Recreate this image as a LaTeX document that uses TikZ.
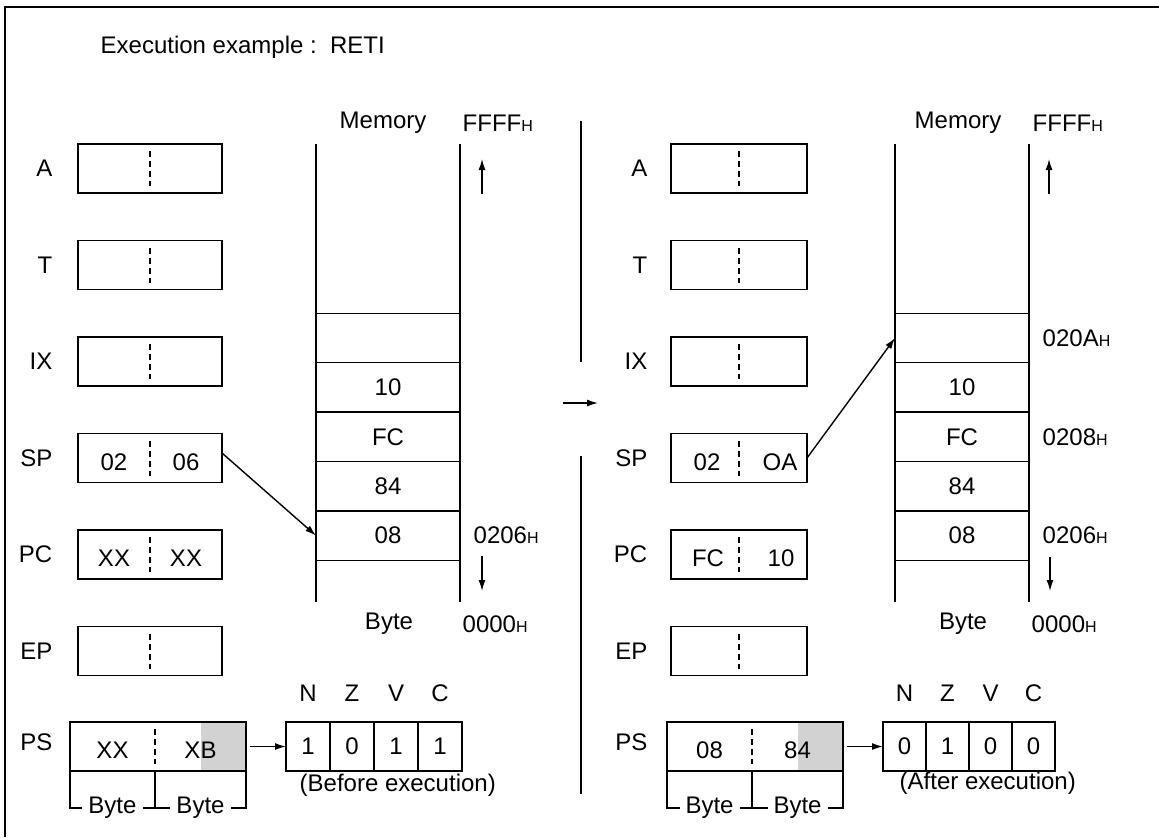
\documentclass[tikz,border=0pt]{standalone}
\usepackage{fontspec}
\setmainfont{Liberation Sans}
\usetikzlibrary{positioning,arrows.meta,calc}
\newcommand{\hsub}{{\fontsize{8}{9}\selectfont H}}

\begin{document}
\begin{tikzpicture}[x=0.5pt, y=-0.5pt, >={Latex[length=5.5pt,width=3.5pt]},
  font=\fontsize{12}{14}\selectfont, line width=0.7pt,
  divider/.style={dash pattern=on 3pt off 2pt},
  reg/.style={draw, minimum width=#1, minimum height=24.5pt, inner sep=0pt, outer sep=0pt,
    path picture={\draw[divider] ([yshift=-3.5pt]path picture bounding box.north) -- ([yshift=3.5pt]path picture bounding box.south);}},
  psreg/.style={draw, minimum width=88pt, minimum height=24.5pt, inner sep=0pt, outer sep=0pt,
    path picture={
      \fill[gray!35] ([xshift=-22.5pt]path picture bounding box.north east) rectangle (path picture bounding box.south east);
      \draw[divider] ([xshift=42.5pt,yshift=-3.5pt]path picture bounding box.north west) -- ([xshift=42.5pt,yshift=3.5pt]path picture bounding box.south west);}},
  cell/.style={draw, minimum width=#1, minimum height=24.7pt, inner sep=0pt, outer sep=0pt},
  flag/.style={draw, minimum width=#1, minimum height=24.5pt, inner sep=0pt, outer sep=0pt},
  lbl/.style={inner sep=0pt},
  val/.style={inner sep=0pt, yshift=-2pt},
  bytelbl/.style={fill=white, inner sep=3pt}]
  \useasboundingbox (0,0) rectangle (1159,837);
  \draw[line width=1.4pt] (5,837) -- (5,7) -- (1159,7);
  \node[lbl, anchor=west] (title) at (100,47) {Execution example :\ \ RETI};

  % before execution
  \node[reg=72pt] (aL) at (150,168.5) {};
  \node[reg=72pt, below=23.75pt of aL] (tL) {};
  \node[reg=72pt, below=23.75pt of tL] (ixL) {};
  \node[reg=72pt, below=23.75pt of ixL] (spL) {};
  \node[reg=72pt, below=23.75pt of spL] (pcL) {};
  \node[reg=72pt, below=23.75pt of pcL] (epL) {};
  \node[lbl, left=12.5pt of aL] (aL-name) {A};
  \node[lbl, left=12.5pt of tL] (tL-name) {T};
  \node[lbl, left=12.5pt of ixL] (ixL-name) {IX};
  \node[lbl, left=12.5pt of spL] (spL-name) {SP};
  \node[lbl, left=12.5pt of pcL] (pcL-name) {PC};
  \node[lbl, left=12.5pt of epL] (epL-name) {EP};
  \node[val] (spL-hi) at ($(spL.west)!0.5!(spL.center)$) {02};
  \node[val] (spL-lo) at ($(spL.center)!0.5!(spL.east)$) {06};
  \node[val] (pcL-hi) at ($(pcL.west)!0.5!(pcL.center)$) {XX};
  \node[val] (pcL-lo) at ($(pcL.center)!0.5!(pcL.east)$) {XX};

  \node[cell=72pt] (m1L) at (388,338) {};
  \node[cell=72pt, below=0pt of m1L] (m2L) {10};
  \node[cell=72pt, below=0pt of m2L] (m3L) {FC};
  \node[cell=72pt, below=0pt of m3L] (m4L) {84};
  \node[cell=72pt, below=0pt of m4L] (m5L) {08};
  \draw ([yshift=84.5pt]m1L.north west) -- ([yshift=-21pt]m5L.south west);
  \draw ([yshift=84.5pt]m1L.north east) -- ([yshift=-21pt]m5L.south east);
  \node[lbl] (memL) at (383,123) {Memory};
  \node[lbl, anchor=west] (topL) at (462,123) {FFFF\hsub};
  \node[lbl, right=6.5pt of m5L] (adr6L) {0206\hsub};
  \node[lbl] (byteL) at (389,624) {Byte};
  \node[lbl, anchor=west] (botL) at (462,624) {0000\hsub};
  \coordinate (upL1) at (482,194);
  \coordinate (upL2) at (482,159);
  \coordinate (dnL1) at (482,556);
  \coordinate (dnL2) at (482,591);
  \draw[->] (upL1) -- (upL2);
  \draw[->] (dnL1) -- (dnL2);
  \draw[->] ([yshift=2.5pt]spL.east) -- (m5L.west);

  \node[psreg] (psL) at (158,746.5) {};
  \node[lbl, left=8.5pt of psL, yshift=2pt] (psL-name) {PS};
  \node[val] (psL-hi) at ($(psL.west)!0.5!([xshift=42.5pt]psL.west)$) {XX};
  \node[val] (psL-lo) at ($([xshift=42.5pt]psL.west)!0.5!(psL.east)$) {XB};
  \draw (psL.south west) -- ++(0,-18.5pt) -| (psL.south east);
  \draw ([xshift=42.5pt]psL.south west) -- ++(0,-18.5pt);
  \node[bytelbl] (byteL1) at ($(psL.south west)!0.5!([xshift=42.5pt]psL.south west)+(0,-18.5pt)$) {Byte};
  \node[bytelbl] (byteL2) at ($([xshift=42.5pt]psL.south west)!0.5!(psL.south east)+(0,-18.5pt)$) {Byte};
  \node[flag=22pt, right=20pt of psL] (nL) {1};
  \node[flag=22pt, right=0pt of nL] (zL) {0};
  \node[flag=22pt, right=0pt of zL] (vL) {1};
  \node[flag=22pt, right=0pt of vL] (cL) {1};
  \node[lbl, above=10pt of nL] (nL-name) {N};
  \node[lbl, above=10pt of zL] (zL-name) {Z};
  \node[lbl, above=10pt of vL] (vL-name) {V};
  \node[lbl, above=10pt of cL] (cL-name) {C};
  \draw[->] ([xshift=2pt]psL.east) -- (nL.west);
  \node[lbl, anchor=north west] (noteL) at ([xshift=6.5pt,yshift=-1pt]nL.south west) {(Before execution)};

  % middle
  \coordinate (midA) at (563,403);
  \coordinate (midB) at (598,403);
  \draw[->] (midA) -- (midB);
  \draw (581,121) -- (581,362);
  \draw (581,456) -- (581,794);

  % after execution
  \node[reg=68pt] (aR) at (739,168.5) {};
  \node[reg=68pt, below=23.75pt of aR] (tR) {};
  \node[reg=68pt, below=23.75pt of tR] (ixR) {};
  \node[reg=68pt, below=23.75pt of ixR] (spR) {};
  \node[reg=68pt, below=23.75pt of spR] (pcR) {};
  \node[reg=68pt, below=23.75pt of pcR] (epR) {};
  \node[lbl, left=11.5pt of aR] (aR-name) {A};
  \node[lbl, left=11.5pt of tR] (tR-name) {T};
  \node[lbl, left=11.5pt of ixR] (ixR-name) {IX};
  \node[lbl, left=11.5pt of spR] (spR-name) {SP};
  \node[lbl, left=11.5pt of pcR] (pcR-name) {PC};
  \node[lbl, left=11.5pt of epR] (epR-name) {EP};
  \node[val, xshift=1pt] (spR-hi) at ($(spR.west)!0.5!(spR.center)$) {02};
  \node[val, xshift=3.5pt] (spR-lo) at ($(spR.center)!0.5!(spR.east)$) {OA};
  \node[val, xshift=1.5pt] (pcR-hi) at ($(pcR.west)!0.5!(pcR.center)$) {FC};
  \node[val, xshift=4pt] (pcR-lo) at ($(pcR.center)!0.5!(pcR.east)$) {10};

  \node[cell=67pt] (m1R) at (962,338) {};
  \node[cell=67pt, below=0pt of m1R] (m2R) {10};
  \node[cell=67pt, below=0pt of m2R] (m3R) {FC};
  \node[cell=67pt, below=0pt of m3R] (m4R) {84};
  \node[cell=67pt, below=0pt of m4R] (m5R) {08};
  \draw ([yshift=84.5pt]m1R.north west) -- ([yshift=-21pt]m5R.south west);
  \draw ([yshift=84.5pt]m1R.north east) -- ([yshift=-21pt]m5R.south east);
  \node[lbl] (memR) at (958,123) {Memory};
  \node[lbl, anchor=west] (topR) at (1032,123) {FFFF\hsub};
  \node[lbl, right=6.5pt of m1R] (adrAR) {020A\hsub};
  \node[lbl, right=6.5pt of m3R] (adr8R) {0208\hsub};
  \node[lbl, right=6.5pt of m5R] (adr6R) {0206\hsub};
  \node[lbl] (byteR) at (963,624) {Byte};
  \node[lbl, anchor=west] (botR) at (1031,624) {0000\hsub};
  \coordinate (upR1) at (1049,194);
  \coordinate (upR2) at (1049,159);
  \coordinate (dnR1) at (1050,557);
  \coordinate (dnR2) at (1050,591);
  \draw[->] (upR1) -- (upR2);
  \draw[->] (dnR1) -- (dnR2);
  \draw[->] (spR.east) -- (m1R.west);

  \node[psreg] (psR) at (755,746.5) {};
  \node[lbl, left=9.5pt of psR, yshift=2pt] (psR-name) {PS};
  \node[val] (psR-hi) at ($(psR.west)!0.5!([xshift=42.5pt]psR.west)$) {08};
  \node[val] (psR-lo) at ($([xshift=42.5pt]psR.west)!0.5!(psR.east)$) {84};
  \draw (psR.south west) -- ++(0,-18.5pt) -| (psR.south east);
  \draw ([xshift=42.5pt]psR.south west) -- ++(0,-18.5pt);
  \node[bytelbl] (byteR1) at ($(psR.south west)!0.5!([xshift=42.5pt]psR.south west)+(0,-18.5pt)$) {Byte};
  \node[bytelbl] (byteR2) at ($([xshift=42.5pt]psR.south west)!0.5!(psR.south east)+(0,-18.5pt)$) {Byte};
  \node[flag=21.5pt, right=20pt of psR] (nR) {0};
  \node[flag=21.5pt, right=0pt of nR] (zR) {1};
  \node[flag=21.5pt, right=0pt of zR] (vR) {0};
  \node[flag=21.5pt, right=0pt of vR] (cR) {0};
  \node[lbl, above=10pt of nR] (nR-name) {N};
  \node[lbl, above=10pt of zR] (zR-name) {Z};
  \node[lbl, above=10pt of vR] (vR-name) {V};
  \node[lbl, above=10pt of cR] (cR-name) {C};
  \draw[->] ([xshift=2pt]psR.east) -- (nR.west);
  \node[lbl, anchor=north west] (noteR) at ([xshift=8pt,yshift=0pt]nR.south west) {(After execution)};
\end{tikzpicture}
\end{document}
